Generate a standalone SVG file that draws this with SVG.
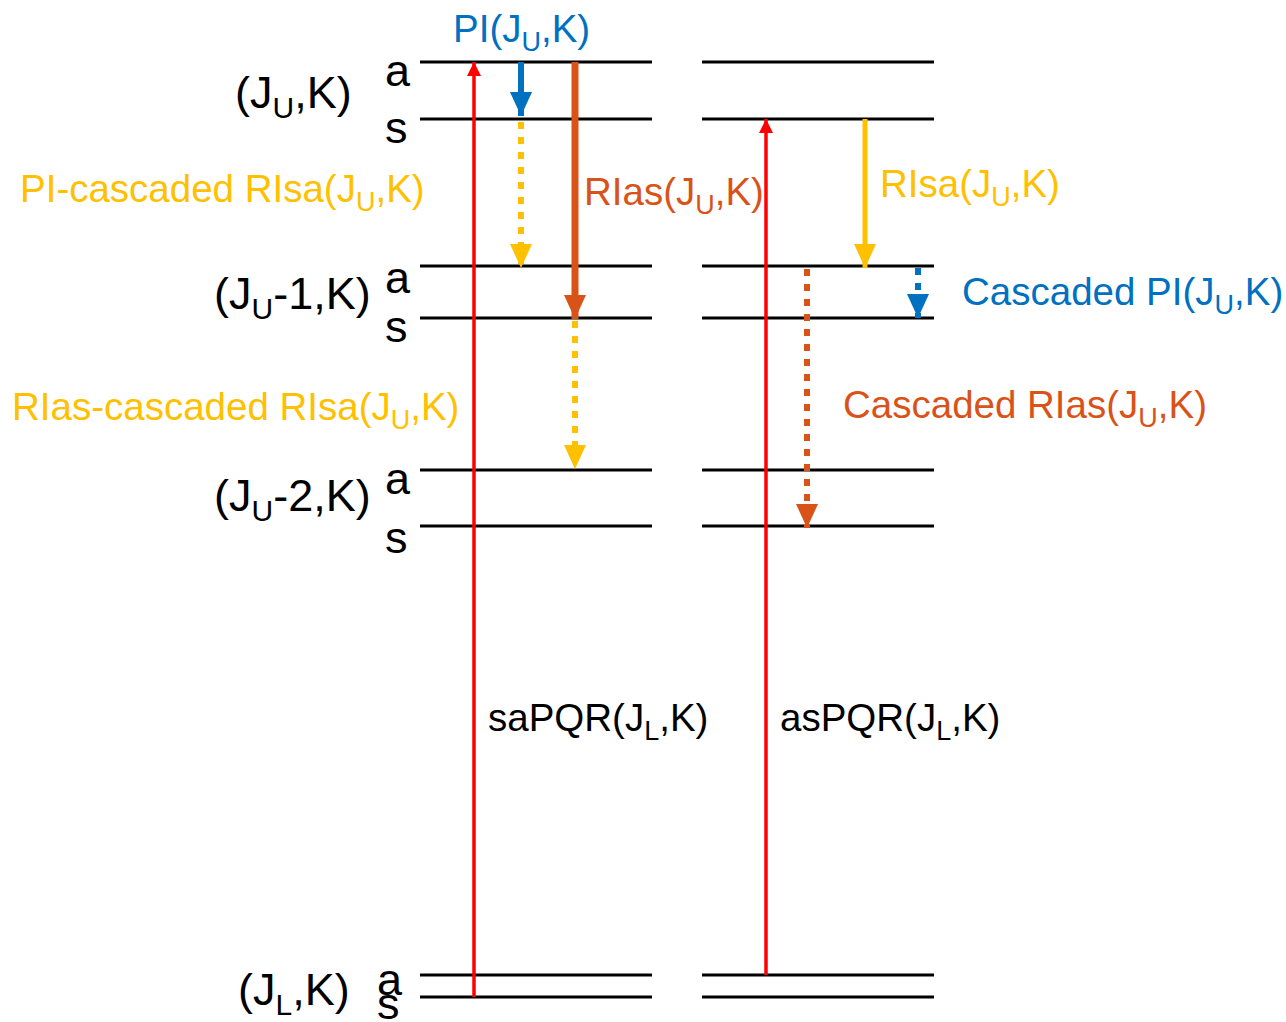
<svg xmlns="http://www.w3.org/2000/svg" width="1286" height="1022" viewBox="0 0 1286 1022">
<style>
text{font-family:"Liberation Sans",Arial,sans-serif;font-size:38.5px}
.big{font-size:45px;fill:#000}
.blk{fill:#000}
.blu{fill:#0070C0}
.yel{fill:#FFC000}
.org{fill:#D95319}
.lvl{stroke:#000;stroke-width:3}
.red{stroke:#FF0000;stroke-width:3.5;fill:none}
.bl{stroke:#0070C0;fill:none}
.yl{stroke:#FFC000;fill:none}
.or{stroke:#D95319;fill:none}
.dot{stroke-dasharray:7 8}
</style>
<defs>
<marker id="hRed" markerUnits="userSpaceOnUse" markerWidth="14" markerHeight="14" viewBox="0 0 14 14" refX="14" refY="7" orient="auto"><path d="M0,0 L14,7 L0,14 z" fill="#FF0000"/></marker>
<marker id="hBlue" markerUnits="userSpaceOnUse" markerWidth="24" markerHeight="24" viewBox="0 0 24 24" refX="24" refY="12" orient="auto"><path d="M0,1 L24,12 L0,23 z" fill="#0070C0"/></marker>
<marker id="hYel" markerUnits="userSpaceOnUse" markerWidth="24" markerHeight="24" viewBox="0 0 24 24" refX="24" refY="12" orient="auto"><path d="M0,1 L24,12 L0,23 z" fill="#FFC000"/></marker>
<marker id="hOrg" markerUnits="userSpaceOnUse" markerWidth="24" markerHeight="24" viewBox="0 0 24 24" refX="24" refY="12" orient="auto"><path d="M0,1 L24,12 L0,23 z" fill="#D95319"/></marker>
</defs>

<g id="levels">
<g id="level-JU-K">
<line class="lvl" x1="420" y1="62" x2="652" y2="62"/><line class="lvl" x1="420" y1="119" x2="652" y2="119"/>
<line class="lvl" x1="702" y1="62" x2="934" y2="62"/><line class="lvl" x1="702" y1="119" x2="934" y2="119"/>
<text class="big" x="235" y="108">(J<tspan font-size="30" dy="10">U</tspan><tspan dy="-10">,K)</tspan></text>
<text class="big" x="385" y="86">a</text><text class="big" x="385" y="143">s</text>
</g>
<g id="level-JU-1-K">
<line class="lvl" x1="420" y1="266" x2="652" y2="266"/><line class="lvl" x1="420" y1="318" x2="652" y2="318"/>
<line class="lvl" x1="702" y1="266" x2="934" y2="266"/><line class="lvl" x1="702" y1="318" x2="934" y2="318"/>
<text class="big" x="214" y="309">(J<tspan font-size="30" dy="10">U</tspan><tspan dy="-10">-1,K)</tspan></text>
<text class="big" x="385" y="293">a</text><text class="big" x="385" y="342">s</text>
</g>
<g id="level-JU-2-K">
<line class="lvl" x1="420" y1="470" x2="652" y2="470"/><line class="lvl" x1="420" y1="526" x2="652" y2="526"/>
<line class="lvl" x1="702" y1="470" x2="934" y2="470"/><line class="lvl" x1="702" y1="526" x2="934" y2="526"/>
<text class="big" x="214" y="511">(J<tspan font-size="30" dy="10">U</tspan><tspan dy="-10">-2,K)</tspan></text>
<text class="big" x="385" y="494">a</text><text class="big" x="385" y="553">s</text>
</g>
<g id="level-JL-K">
<line class="lvl" x1="420" y1="975" x2="652" y2="975"/><line class="lvl" x1="420" y1="997" x2="652" y2="997"/>
<line class="lvl" x1="702" y1="975" x2="934" y2="975"/><line class="lvl" x1="702" y1="997" x2="934" y2="997"/>
<text class="big" x="238" y="1005">(J<tspan font-size="30" dy="10">L</tspan><tspan dy="-10">,K)</tspan></text>
<text class="big" x="377" y="995">a</text><text class="big" x="377" y="1019">s</text>
</g>
</g>

<g id="connectors">
<line class="red" x1="474" y1="997" x2="474" y2="62" marker-end="url(#hRed)"/>
<line class="red" x1="766" y1="975" x2="766" y2="119" marker-end="url(#hRed)"/>
<line class="bl" stroke-width="6" x1="521" y1="62" x2="521" y2="116" marker-end="url(#hBlue)"/>
<line class="yl dot" stroke-width="6" x1="521" y1="122" x2="521" y2="268" marker-end="url(#hYel)"/>
<line class="or" stroke-width="7" x1="575" y1="62" x2="575" y2="319" marker-end="url(#hOrg)"/>
<line class="yl dot" stroke-width="6" x1="575" y1="321" x2="575" y2="469" marker-end="url(#hYel)"/>
<line class="yl" stroke-width="5" x1="865" y1="119" x2="865" y2="268" marker-end="url(#hYel)"/>
<line class="bl dot" stroke-width="6" x1="918" y1="268" x2="918" y2="318" marker-end="url(#hBlue)"/>
<line class="or dot" stroke-width="6" x1="807" y1="269" x2="807" y2="528" marker-end="url(#hOrg)"/>
</g>

<g id="labels">
<text class="blu" x="453" y="42">PI(J<tspan font-size="27" dy="9">U</tspan><tspan dy="-9">,K)</tspan></text>
<text class="yel" x="20" y="202">PI-cascaded RIsa(J<tspan font-size="27" dy="9">U</tspan><tspan dy="-9">,K)</tspan></text>
<text class="org" x="584" y="205">RIas(J<tspan font-size="27" dy="9">U</tspan><tspan dy="-9">,K)</tspan></text>
<text class="yel" x="880" y="197">RIsa(J<tspan font-size="27" dy="9">U</tspan><tspan dy="-9">,K)</tspan></text>
<text class="blu" x="962" y="305">Cascaded PI(J<tspan font-size="27" dy="9">U</tspan><tspan dy="-9">,K)</tspan></text>
<text class="yel" x="12" y="420">RIas-cascaded RIsa(J<tspan font-size="27" dy="9">U</tspan><tspan dy="-9">,K)</tspan></text>
<text class="org" x="843" y="418">Cascaded RIas(J<tspan font-size="27" dy="9">U</tspan><tspan dy="-9">,K)</tspan></text>
<text class="blk" x="488" y="731">saPQR(J<tspan font-size="27" dy="9">L</tspan><tspan dy="-9">,K)</tspan></text>
<text class="blk" x="780" y="731">asPQR(J<tspan font-size="27" dy="9">L</tspan><tspan dy="-9">,K)</tspan></text>
</g>
</svg>
